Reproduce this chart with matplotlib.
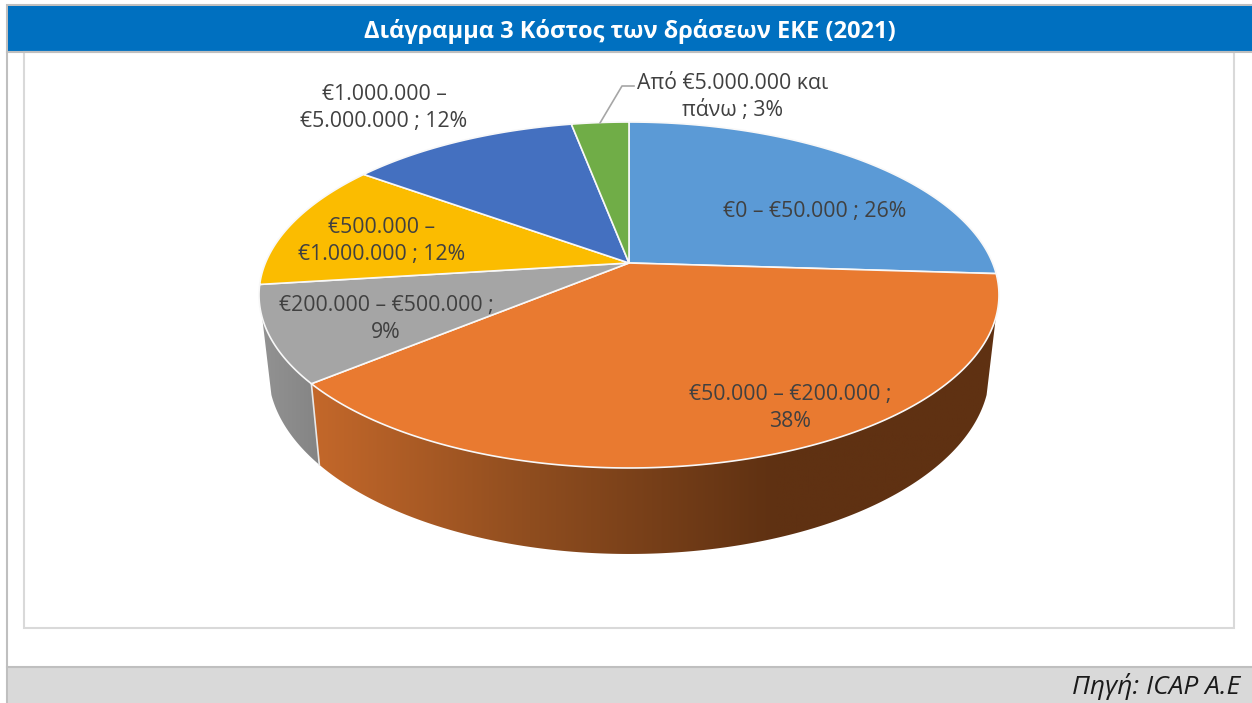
"""
Diagram 3: cost of the EKE actions (2021), a tilted 3D-look pie.
The pie is drawn on a pixel-sized axes, the disc goes through a small
perspective mapping so the slices are foreshortened like the original.
"""

import numpy as np
import matplotlib
matplotlib.use('Agg')
import matplotlib.pyplot as plt
from matplotlib.colors import to_rgb
from matplotlib.patches import Polygon, Rectangle

# Data
shares = [26, 38, 9, 12, 12, 3]
labels = [
    '€0 – €50.000 ; 26%',
    '€50.000 – €200.000 ;\n38%',
    '€200.000 – €500.000 ;\n9%',
    '€500.000 –\n€1.000.000 ; 12%',
    '€1.000.000 –\n€5.000.000 ; 12%',
    'Από €5.000.000 και\nπάνω ; 3%',
]
title = 'Διάγραμμα 3 Κόστος των δράσεων ΕΚΕ (2021)'
source = 'Πηγή: ICAP A.E'

# Styles
colors = ['#5B9AD6', '#E97A30', '#A5A5A5', '#FBBC00', '#4470C0', '#70AD47']
label_xy = [(815, 212), (790, 408), (386, 319), (382, 241), (384, 108), (733, 97)]
TEXT = '#404040'
FONT = 'Open Sans'

# Pie geometry in pixels
CX, CY = 629, 263
R = 363.6
PERSP = 0.185
TILT = -118.4
WALL_FROM, WALL_TO = 108, 252  # the side wall is only seen between these angles


def top_face(angle):
    """Map a clockwise-from-top angle (deg) onto the top of the disc."""
    a = np.radians(angle)
    X, Y = np.sin(a), np.cos(a)
    w = 1 + PERSP * Y
    return CX + R * X / w, (TILT * Y + CY) / w


def bottom_face(angle):
    """Same angle on the lower rim of the disc."""
    x, y = top_face(angle)
    return CX + (x - CX) * 0.975, y + 86 + (y - 468) * 0.0588


def gradient(stops, x0, x1):
    """One row of colours running from x0 to x1."""
    xs = [s[0] for s in stops]
    rgb = np.array([to_rgb(s[1]) for s in stops])
    grid = np.linspace(x0, x1, 400)
    return np.dstack([np.interp(grid, xs, rgb[:, k]) for k in range(3)])


fig = plt.figure(figsize=(12.52, 7.03), dpi=100)
ax = fig.add_axes([0, 0, 1, 1])

# Page frame, header and footer
ax.add_patch(Rectangle((6.5, 5), 1250, 700, fc='white', ec='#BFBFBF', lw=1.5))
ax.add_patch(Rectangle((7.5, 6), 1245, 45, fc='#0070C0', ec='none'))
ax.plot([7, 1252], [51.5, 51.5], color='#BFBFBF', lw=1.5)
ax.add_patch(Rectangle((24, 52), 1210, 576, fc='white', ec='#D9D9D9', lw=1.5))
ax.add_patch(Rectangle((7.5, 666.5), 1245, 37, fc='#D9D9D9', ec='none'))
ax.plot([7, 1252], [666.5, 666.5], color='#BFBFBF', lw=1.5)

edges = np.concatenate([[0], np.cumsum(shares)]) / sum(shares) * 360

# Side wall first, the top face covers whatever should be hidden
wall_stops = {
    1: [(319, '#C2672A'), (530, '#8F4D1F'), (775, '#5F3112'), (1000, '#5F3112')],
    2: [(255, '#949494'), (320, '#848484')],
}
for i, stops in wall_stops.items():
    angles = np.linspace(max(edges[i], WALL_FROM), min(edges[i + 1], WALL_TO), 240)
    tx, ty = top_face(angles)
    bx, by = bottom_face(angles)
    outline = np.column_stack([np.r_[tx, bx[::-1]], np.r_[ty, by[::-1]]])
    shape = Polygon(outline, closed=True, fc='none', ec='none', transform=ax.transData)
    ax.add_patch(shape)
    x0, x1 = outline[:, 0].min(), outline[:, 0].max()
    y0, y1 = outline[:, 1].min(), outline[:, 1].max()
    img = ax.imshow(gradient(stops, x0, x1), extent=(x0, x1, y1, y0), aspect='auto', zorder=1)
    img.set_clip_path(shape)

# White seam between the two visible walls
sx, sy = top_face(edges[2])
ex, ey = bottom_face(edges[2])
ax.plot([sx, ex], [sy, ey], color='#E8E8E8', lw=1.2, zorder=2)

# Top face
for i, c in enumerate(colors):
    angles = np.linspace(edges[i], edges[i + 1], 200)
    x, y = top_face(angles)
    pts = np.column_stack([np.r_[CX, x], np.r_[CY, y]])
    ax.add_patch(Polygon(pts, closed=True, fc=c, ec='#F8F8F8', lw=1.2, joinstyle='round', zorder=3))

# Leader line of the smallest slice
ax.plot([600, 622, 634], [123, 86, 86], color='#A6A6A6', lw=1.2, zorder=3)

for text, (x, y) in zip(labels, label_xy):
    ax.text(x, y, text, ha='center', va='center', fontsize=15.3, color=TEXT,
            family=FONT, linespacing=1.37, zorder=4)

ax.text(630, 32, title, ha='center', va='center', fontsize=17, color='white',
        family=FONT, fontweight='bold', zorder=4)
ax.text(1240, 687, source, ha='right', va='center', fontsize=19, color='#1A1A1A',
        family=FONT, style='italic', zorder=4)

ax.set_xlim(0, 1252)
ax.set_ylim(703, 0)
ax.axis('off')

fig.savefig('out.png', dpi=100)
